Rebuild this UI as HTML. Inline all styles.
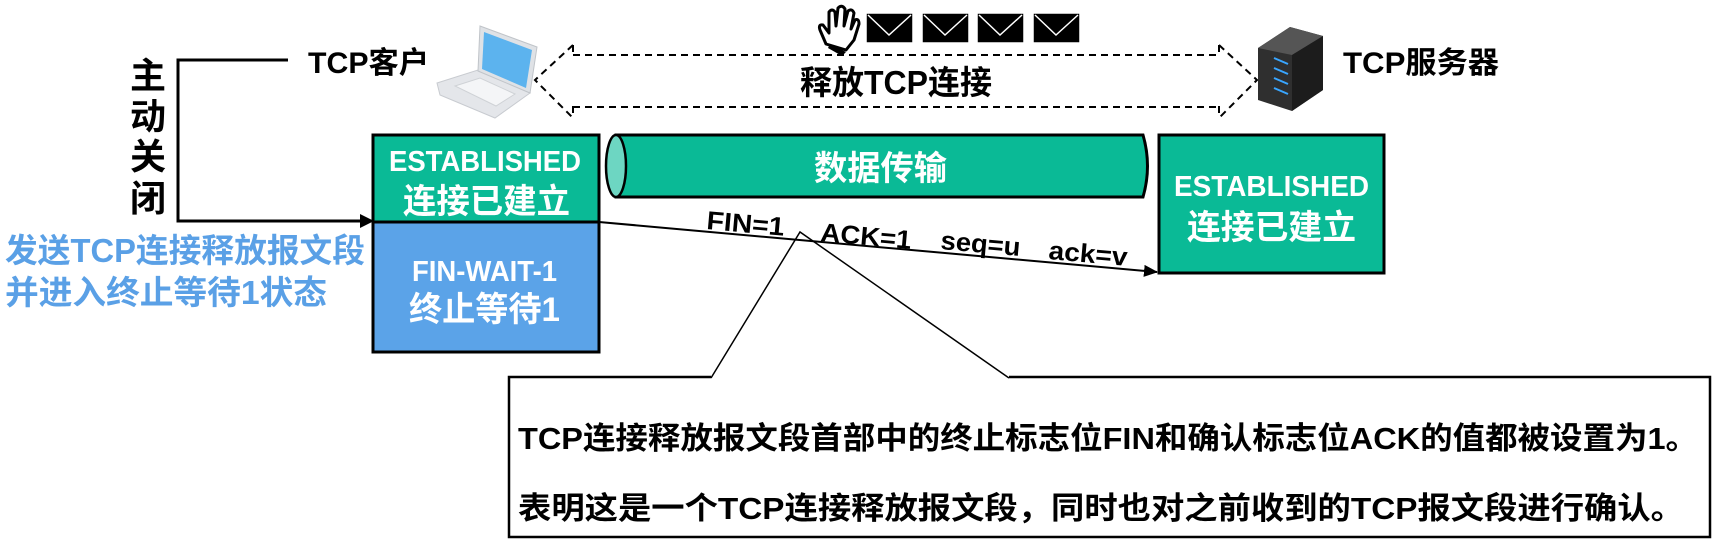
<!DOCTYPE html>
<html><head><meta charset="utf-8"><style>
html,body{margin:0;padding:0;background:#fff;}
svg{display:block;}
text{font-family:"Liberation Sans","Noto Sans CJK SC",sans-serif;font-weight:bold;}
</style></head><body>
<svg width="1718" height="544" viewBox="0 0 1718 544" xmlns="http://www.w3.org/2000/svg">
<defs>
<marker id="ah2" markerWidth="14" markerHeight="12" refX="13" refY="6" orient="auto" markerUnits="userSpaceOnUse"><path d="M0,0 L14,6 L0,12 Z" fill="#000"/></marker>
</defs>

<g font-size="36" text-anchor="middle" fill="#000">
<text x="148" y="88">主</text>
<text x="148" y="129">动</text>
<text x="148" y="169">关</text>
<text x="148" y="211">闭</text>
</g>
<polyline points="288,60 178,60 178,221 360,221" fill="none" stroke="#000" stroke-width="3"/>
<path d="M360,214 L374,221 L360,228 Z" fill="#000"/>
<text x="308" y="73" font-size="30" textLength="121" lengthAdjust="spacingAndGlyphs">TCP客户</text>

<text x="5" y="262" font-size="33" fill="#5aa0e6" textLength="360" lengthAdjust="spacingAndGlyphs">发送TCP连接释放报文段</text>
<text x="5" y="304" font-size="33" fill="#5aa0e6" textLength="322" lengthAdjust="spacingAndGlyphs">并进入终止等待1状态</text>

<!-- laptop -->
<polygon points="437,83 478,70 530,93 495,118 440,95" fill="#e4e6ea" stroke="#c8cbd0"/>
<polygon points="455,86 480,78 515,94 496,106" fill="#f4f5f7" stroke="#cfd2d6"/>
<polygon points="480,26 537,47 530,93 478,71" fill="#dfe2e6" stroke="#c0c4c9"/>
<polygon points="484,32 532,50 526,88 482,69" fill="#5cb3ee"/>

<g fill="none" stroke="#000" stroke-width="2" stroke-dasharray="7,5">
<line x1="573" y1="55" x2="1219" y2="55"/>
<line x1="573" y1="107" x2="1219" y2="107"/>
<polyline points="573,45 535,80 573,118"/>
<line x1="573" y1="45" x2="573" y2="56"/>
<line x1="573" y1="106" x2="573" y2="118"/>
<polyline points="1219,45 1257,80 1219,118"/>
<line x1="1219" y1="45" x2="1219" y2="56"/>
<line x1="1219" y1="106" x2="1219" y2="118"/>
</g>
<text x="800" y="94" font-size="33" textLength="192" lengthAdjust="spacingAndGlyphs">释放TCP连接</text>

<!-- hand (black outline) -->
<g fill="#fff" stroke="#000" stroke-width="3" stroke-linejoin="round">
<path d="M826,44 L820,30 Q818,24 823,25 L829,33 L829,12 Q832,8 835,12 L836,26 L838,8 Q842,4 845,9 L844,26 L848,11 Q852,8 854,13 L851,29 L855,20 Q859,18 859,24 L854,40 L846,50 Z"/>
</g>
<path d="M830,44 L846,52 L842,56 L828,48 Z" fill="#000"/>

<g stroke="#fff" stroke-width="1.5" fill="#000">
<rect x="866" y="13" width="47" height="30"/><polyline points="868,15 889,35 911,15" fill="none"/>
<rect x="922" y="13" width="47" height="30"/><polyline points="924,15 945,35 967,15" fill="none"/>
<rect x="977" y="13" width="47" height="30"/><polyline points="979,15 1000,35 1022,15" fill="none"/>
<rect x="1033" y="13" width="47" height="30"/><polyline points="1035,15 1056,35 1078,15" fill="none"/>
</g>

<!-- server -->
<polygon points="1258,48 1290,27 1323,36 1323,90 1292,111 1258,100" fill="#2f2f2f"/>
<polygon points="1258,48 1290,27 1323,36 1292,55" fill="#555"/>
<polygon points="1292,55 1323,36 1323,90 1292,111" fill="#1c1c1c"/>
<g stroke="#3aa6ff" stroke-width="2">
<line x1="1274" y1="58" x2="1288" y2="64"/>
<line x1="1274" y1="68" x2="1288" y2="74"/>
<line x1="1274" y1="78" x2="1288" y2="84"/>
<line x1="1274" y1="88" x2="1288" y2="94"/>
</g>
<text x="1343" y="73" font-size="30" textLength="156" lengthAdjust="spacingAndGlyphs">TCP服务器</text>

<rect x="373" y="135" width="226" height="87" fill="#0aba96" stroke="#000" stroke-width="3"/>
<rect x="373" y="222" width="226" height="130" fill="#5ba3e8" stroke="#000" stroke-width="3"/>
<text x="389" y="171" font-size="29" fill="#fff" textLength="192" lengthAdjust="spacingAndGlyphs">ESTABLISHED</text>
<text x="403" y="213" font-size="34" fill="#fff" textLength="167" lengthAdjust="spacingAndGlyphs">连接已建立</text>
<text x="412" y="281" font-size="29" fill="#fff" textLength="145" lengthAdjust="spacingAndGlyphs">FIN-WAIT-1</text>
<text x="409" y="321" font-size="34" fill="#fff" textLength="151" lengthAdjust="spacingAndGlyphs">终止等待1</text>

<path d="M616,135 L1143,135 Q1152,166 1143,197 L616,197 Z" fill="#0aba96" stroke="#000" stroke-width="3"/>
<ellipse cx="616" cy="166" rx="10" ry="31" fill="#6dd6c2" stroke="#000" stroke-width="2.5"/>
<text x="814" y="180" font-size="34" fill="#fff" textLength="133" lengthAdjust="spacingAndGlyphs">数据传输</text>

<rect x="1159" y="135" width="225" height="138" fill="#0aba96" stroke="#000" stroke-width="3"/>
<text x="1174" y="196" font-size="29" fill="#fff" textLength="195" lengthAdjust="spacingAndGlyphs">ESTABLISHED</text>
<text x="1187" y="239" font-size="34" fill="#fff" textLength="169" lengthAdjust="spacingAndGlyphs">连接已建立</text>

<line x1="599" y1="222" x2="1157" y2="272" stroke="#000" stroke-width="2" marker-end="url(#ah2)"/>
<g font-size="26" fill="#000">
<text x="706" y="229" transform="rotate(5 706 229)" textLength="78" lengthAdjust="spacingAndGlyphs">FIN=1</text>
<text x="820" y="241" transform="rotate(5 820 241)" textLength="91" lengthAdjust="spacingAndGlyphs">ACK=1</text>
<text x="940" y="249" transform="rotate(5 940 249)" textLength="80" lengthAdjust="spacingAndGlyphs">seq=u</text>
<text x="1048" y="259" transform="rotate(5 1048 259)" textLength="79" lengthAdjust="spacingAndGlyphs">ack=v</text>
</g>

<path d="M711,377 L509,377 L509,537 L1710,537 L1710,377 L1009,377" fill="#fff" stroke="#000" stroke-width="2.5"/>
<polyline points="711,378 800,232 1009,378" fill="none" stroke="#000" stroke-width="1.5"/>
<text x="518" y="449" font-size="31" fill="#000" textLength="1180" lengthAdjust="spacingAndGlyphs">TCP连接释放报文段首部中的终止标志位FIN和确认标志位ACK的值都被设置为1。</text>
<text x="518" y="519" font-size="31" fill="#000" textLength="1166" lengthAdjust="spacingAndGlyphs">表明这是一个TCP连接释放报文段，同时也对之前收到的TCP报文段进行确认。</text>
</svg>
</body></html>
